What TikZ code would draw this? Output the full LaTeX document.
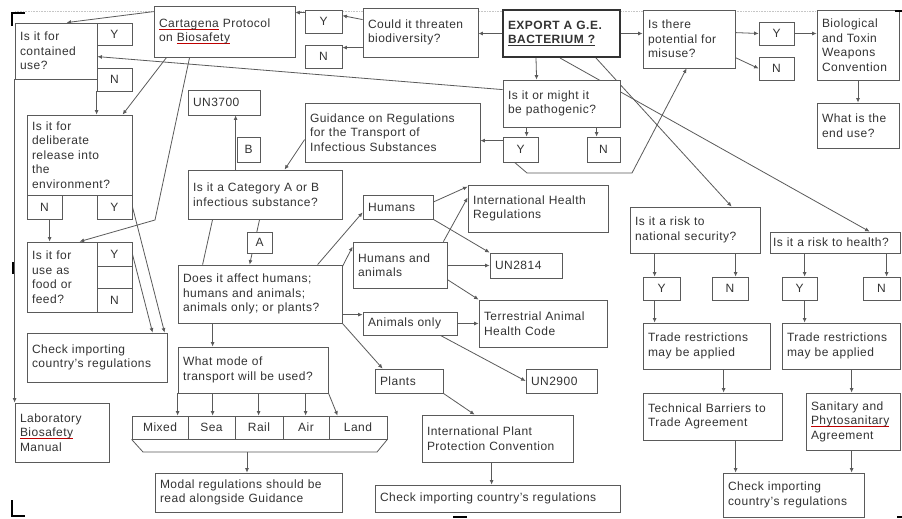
\documentclass[tikz,border=0pt]{standalone}
\usepackage{fontspec}
\setmainfont{Liberation Sans}[LetterSpace=4]
\usetikzlibrary{arrows.meta,calc}
\definecolor{ln}{HTML}{5A5A5A}
\definecolor{tx}{HTML}{333333}
\newsavebox{\rulbox}
\newcommand{\rul}[1]{\leavevmode\sbox{\rulbox}{#1}\rlap{\color{red!75!black}\rule[-2.2pt]{\wd\rulbox}{0.6pt}}\usebox{\rulbox}}
\pgfdeclarelayer{bg}
\pgfsetlayers{bg,main}
\tikzset{
  box/.style={draw=ln, line width=0.8pt, fill=white, text=tx, font=\fontsize{12}{14.5}\selectfont, align=left, inner xsep=5pt, inner ysep=1pt},
  yn/.style={draw=ln, line width=0.8pt, fill=white, text=tx, font=\fontsize{12}{14.5}\selectfont, align=center, inner sep=0pt},
  ex/.style={line width=2pt, draw=black!80},
  con/.style={draw=ln, line width=0.8pt, -{Latex[length=4.5pt,width=4pt]}},
  pl/.style={draw=ln, line width=0.8pt},
  crop/.style={draw=black, line width=2.5pt},
}
\newcommand{\mybox}[7][]{%
  \pgfmathsetmacro{\bw}{#5-#3}%
  \pgfmathsetmacro{\bh}{#6-#4}%
  \pgfmathsetmacro{\tw}{#5-#3-10}%
  \node[box,minimum width=\bw pt,minimum height=\bh pt,text width=\tw pt,#1] (#2) at ({(#3+#5)/2},{(#4+#6)/2}) {#7};%
}
\newcommand{\ynb}[6]{%
  \pgfmathsetmacro{\bw}{#4-#2}%
  \pgfmathsetmacro{\bh}{#5-#3}%
  \node[yn,minimum width=\bw pt,minimum height=\bh pt] (#1) at ({(#2+#4)/2},{(#3+#5)/2}) {#6};%
}
\begin{document}
\begin{tikzpicture}[x=1pt,y=-1pt]
\useasboundingbox (0,0) rectangle (902,519);
\begin{pgfonlayer}{bg}
\fill[white] (0,0) rectangle (902,519);
\draw[gray!45, densely dotted, line width=0.6pt] (15,11) -- (897,11);
\end{pgfonlayer}

% ---- boxes ----
\mybox{cu}{15}{23}{97}{79}{Is it for\\contained\\use?}
\ynb{cuY}{97}{23}{132}{45}{Y}
\ynb{cuN}{97}{68}{132}{91}{N}
\mybox{car}{154}{6}{295}{57}{\rul{Cartagena} Protocol\\on \rul{Biosafety}}
\mybox{thr}{363}{8}{478}{57}{Could it threaten\\biodiversity?}
\ynb{thY}{305}{10}{342}{33}{Y}
\ynb{thN}{305}{45}{342}{68}{N}
\mybox[ex]{exp}{503}{10}{620}{57}{\textbf{EXPORT A G.E.}\\\textbf{\underline{BACTERIUM ?}}}
\mybox{mis}{643}{10}{735}{68}{Is there\\potential for\\misuse?}
\ynb{msY}{759}{22}{794}{45}{Y}
\ynb{msN}{759}{57}{794}{80}{N}
\mybox{btw}{817}{10}{899}{80}{Biological\\and Toxin\\Weapons\\Convention}
\mybox{end}{817}{103}{899}{148}{What is the\\end use?}
\mybox{pth}{503}{80}{620}{127}{Is it or might it\\be pathogenic?}
\ynb{pY}{503}{137}{538}{162}{Y}
\ynb{pN}{587}{137}{620}{162}{N}
\mybox{gui}{305}{103}{480}{162}{Guidance on Regulations\\for the Transport of\\Infectious Substances}
\mybox{un37}{188}{90}{260}{115}{UN3700}
\ynb{bB}{237}{137}{260}{162}{B}
\mybox{cat}{188}{170}{342}{219}{Is it a Category A or B\\infectious substance?}
\ynb{aA}{247}{232}{272}{253}{A}
\mybox{dr}{27}{115}{132}{195}{Is it for\\deliberate\\release into\\the\\environment?}
\ynb{drN}{27}{195}{62}{219}{N}
\ynb{drY}{97}{195}{132}{219}{Y}
\mybox{fd}{27}{242}{97}{312}{Is it for\\use as\\food or\\feed?}
\ynb{fcol}{97}{242}{132}{312}{}
\ynb{fY}{97}{242}{132}{266}{Y}
\ynb{fN}{97}{288}{132}{312}{N}
\mybox{chl}{27}{333}{167}{382}{Check importing\\country's regulations}
\mybox{lab}{15}{403}{109}{462}{Laboratory\\\rul{Biosafety}\\Manual}
\mybox{doe}{178}{265}{342}{323}{Does it affect humans;\\humans and animals;\\animals only; or plants?}
\mybox{hum}{363}{195}{433}{219}{Humans}
\mybox{ha}{353}{242}{447}{288}{Humans and\\animals}
\mybox{ao}{363}{312}{457}{335}{Animals only}
\mybox{pl}{375}{369}{443}{393}{Plants}
\mybox{ihr}{468}{185}{608}{232}{International Health\\Regulations}
\mybox{un28}{490}{253}{562}{278}{UN2814}
\mybox{tah}{479}{300}{607}{347}{Terrestrial Animal\\Health Code}
\mybox{un29}{526}{369}{597}{393}{UN2900}
\mybox{ipp}{422}{415}{573}{462}{International Plant\\Protection Convention}
\mybox{chm}{375}{485}{620}{512}{Check importing country's regulations}
\mybox{trn}{178}{347}{328}{393}{What mode of\\transport will be used?}
\ynb{mMix}{132}{416}{188}{439}{Mixed}
\ynb{mSea}{188}{416}{235}{439}{Sea}
\ynb{mRai}{235}{416}{283}{439}{Rail}
\ynb{mAir}{283}{416}{329}{439}{Air}
\ynb{mLan}{329}{416}{387}{439}{Land}
\draw[pl] (mMix.south west) -- (143,452) coordinate (mbl) -- (377,452) coordinate (mbr) -- (mLan.south east);
\coordinate (mb) at (247,452);
\mybox{mod}{155}{473}{342}{512}{Modal regulations should be\\read alongside Guidance}
\mybox{nat}{630}{207}{760}{253}{Is it a risk to\\national security?}
\ynb{nY}{643}{277}{680}{300}{Y}
\ynb{nN}{712}{277}{748}{300}{N}
\mybox[inner xsep=3pt,text width=124pt]{hea}{770}{232}{900}{253}{Is it a risk to health?}
\ynb{hY}{782}{277}{817}{300}{Y}
\ynb{hN}{863}{277}{900}{300}{N}
\mybox{tr1}{643}{323}{770}{369}{Trade restrictions\\may be applied}
\mybox{tr2}{782}{323}{900}{369}{Trade restrictions\\may be applied}
\mybox{tbt}{643}{393}{782}{440}{Technical Barriers to\\Trade Agreement}
\mybox{sps}{806}{393}{900}{450}{Sanitary and\\\rul{Phytosanitary}\\Agreement}
\mybox{chr}{723}{473}{864}{517}{Check importing\\country's regulations}
\coordinate (bend1) at (155,220);
\coordinate (pb1) at (527,173);
\coordinate (pb2) at (632,173);

% ---- connectors ----
\begin{pgfonlayer}{bg}
\draw[con] (exp.west) -- (exp.west -| thr.east);
\draw[con] (exp.east) -- (exp.east -| mis.west);
\draw[con] ($(exp.south west)+(34,0)$) -- ($(pth.north west)+(34,0)$);
\draw[con] ($(exp.south west)+(94,0)$) -- ($(nat.north west)+(102,0)$);
\draw[con] ($(exp.south west)+(58,0)$) -- ($(hea.north west)+(100,0)$);
\draw[con] ($(thr.north west)+(0,12)$) -- ($(thY.north east)+(0,6)$);
\draw[con] ($(thr.north west)+(0,40)$) -- ($(thN.north east)+(0,3)$);
\draw[con] ($(thY.north west)+(0,3)$) -- ($(car.north east)+(0,7)$);
\draw[con] ($(car.north west)+(0,6)$) -- ($(cu.north west)+(52,0)$);
\draw[con] ($(pth.north west)+(0,10)$) -- ($(cu.north east)+(0,34)$);
\draw[con] (cuN.south west) -- ($(dr.north west)+(70,0)$);
\draw[con] ($(car.south west)+(13,0)$) -- ($(dr.north west)+(96,0)$);
\draw[con] ($(car.south west)+(36,0)$) -- (bend1) -- ($(fd.north west)+(53,0)$);
\draw[con] ($(drN.south west)+(23,0)$) -- ($(fd.north west)+(23,0)$);
\draw[con] ($(drY.north east)+(0,12)$) -- ($(chl.north west)+(138,0)$);
\draw[con] (fY.east) -- ($(chl.north west)+(126,0)$);
\draw[con] (cu.south west) -- (lab.north west);
\draw[con] ($(pth.south west)+(24,0)$) -- ($(pY.north west)+(24,0)$);
\draw[con] ($(pth.south west)+(94,0)$) -- ($(pN.north west)+(10,0)$);
\draw[con] ($(pY.north west)+(0,4)$) -- ($(gui.north east)+(0,38)$);
\draw[con] ($(pY.south west)+(12,0)$) -- (pb1) -- (pb2) -- ($(mis.south west)+(44,0)$);
\draw[con] ($(gui.north west)+(0,37)$) -- ($(cat.north west)+(97,0)$);
\draw[con] ($(cat.north west)+(48,0)$) -- ($(un37.south west)+(48,0)$);
\draw[con] ($(cat.south west)+(72,0)$) -- ($(doe.north west)+(72,0)$);
\draw[pl] ($(cat.south west)+(25,0)$) -- ($(doe.north west)+(25,0)$);
\draw[con] ($(doe.north west)+(140,0)$) -- ($(hum.south west)+(0,-7)$);
\draw[con] ($(doe.north east)+(0,2)$) -- ($(ha.north west)+(0,5)$);
\draw[con] ($(doe.north east)+(0,50)$) -- ($(ao.north west)+(0,3)$);
\draw[con] (doe.south east) -- ($(pl.north west)+(8,0)$);
\draw[con] ($(hum.east)+(0,-5)$) -- ($(ihr.north west)+(0,2)$);
\draw[con] ($(ha.north east)+(-4,0)$) -- ($(ihr.north west)+(0,13)$);
\draw[con] (hum.south east) -- (un28.north west);
\draw[con] ($(ha.north east)+(0,24)$) -- (un28.west);
\draw[con] ($(ha.north east)+(0,38)$) -- (tah.north west);
\draw[con] (ao.east) -- (ao.east -| tah.west);
\draw[con] ($(ao.south east)+(-17,0)$) -- (un29.west);
\draw[con] (pl.south east) -- ($(ipp.north west)+(53,0)$);
\draw[con] ($(ipp.south west)+(70,0)$) -- ($(chm.north west)+(117,0)$);
\draw[con] ($(doe.south west)+(35,0)$) -- ($(trn.north west)+(35,0)$);
\draw[con] (trn.south west) -- ($(mMix.north west)+(46,0)$);
\draw[con] ($(trn.south west)+(35,0)$) -- ($(mSea.north west)+(25,0)$);
\draw[con] ($(trn.south west)+(81,0)$) -- ($(mRai.north west)+(24,0)$);
\draw[con] ($(trn.south west)+(128,0)$) -- ($(mAir.north west)+(23,0)$);
\draw[con] ($(trn.south west)+(151,0)$) -- ($(mLan.north west)+(9,0)$);
\draw[con] (mb) -- (mb |- mod.north);
\draw[con] ($(nat.south west)+(25,0)$) -- ($(nY.north west)+(12,0)$);
\draw[con] ($(nat.south west)+(106,0)$) -- ($(nN.north west)+(24,0)$);
\draw[con] ($(hea.south west)+(35,0)$) -- ($(hY.north west)+(23,0)$);
\draw[con] ($(hea.south west)+(117,0)$) -- ($(hN.north west)+(24,0)$);
\draw[con] ($(nY.south west)+(12,0)$) -- ($(tr1.north west)+(12,0)$);
\draw[con] ($(hY.south west)+(23,0)$) -- ($(tr2.north west)+(23,0)$);
\draw[con] ($(tr1.south west)+(81,0)$) -- ($(tbt.north west)+(81,0)$);
\draw[con] ($(tr2.south west)+(70,0)$) -- ($(sps.north west)+(46,0)$);
\draw[con] ($(tbt.south west)+(93,0)$) -- ($(chr.north west)+(13,0)$);
\draw[con] ($(sps.south west)+(46,0)$) -- ($(chr.north west)+(129,0)$);
\draw[con] ($(mis.north east)+(0,23)$) -- (msY.west);
\draw[con] ($(mis.north east)+(0,48)$) -- (msN.west);
\draw[con] (msY.east) -- (msY.east -| btw.west);
\draw[con] (btw.south) -- (end.north);
\end{pgfonlayer}

% ---- crop marks ----
\draw[crop] (12,26) -- (12,13) -- (25,13);
\draw[crop] (12,500) -- (12,516) -- (25,516);
\draw[crop] (13,262) -- (13,274);
\draw[crop] (453,517) -- (467,517);
\draw[crop] (895,11) -- (902,11);
\draw[crop] (897,517) -- (902,517);
\end{tikzpicture}
\end{document}
